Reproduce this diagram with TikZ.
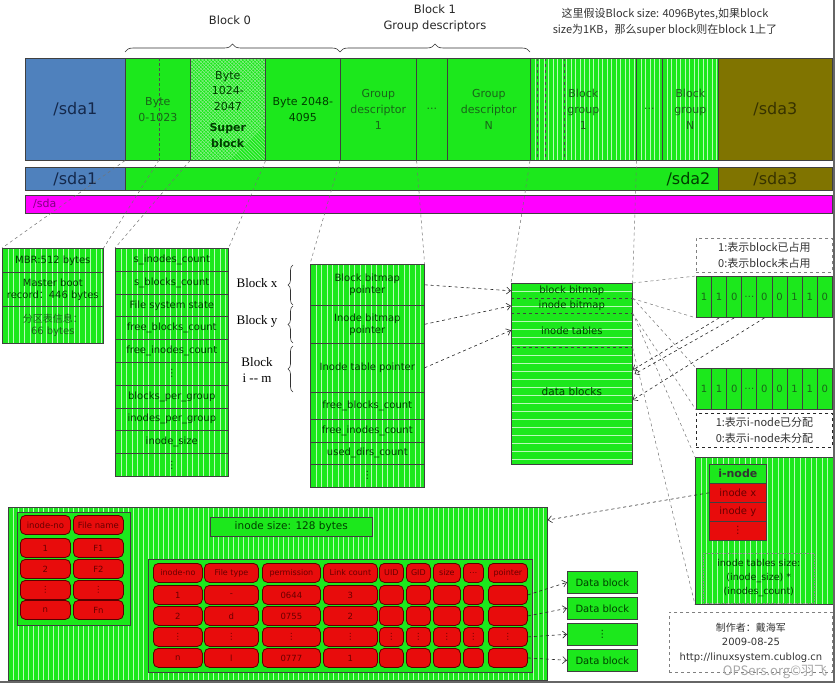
\documentclass[tikz,border=0pt]{standalone}
\usepackage{fontspec}
\setmainfont{DejaVu Sans}
\newfontfamily\cjk{Noto Sans CJK SC}
\newfontfamily\serifx{Liberation Serif}
\usetikzlibrary{decorations.pathreplacing,calc,arrows.meta}

\definecolor{gfill}{RGB}{28,232,28}
\definecolor{stripe}{RGB}{185,250,185}
\definecolor{hatch}{RGB}{150,240,150}
\definecolor{blueA}{RGB}{79,129,189}
\definecolor{blueT}{RGB}{20,40,75}
\definecolor{oliveA}{RGB}{128,116,0}
\definecolor{oliveT}{RGB}{55,50,0}
\definecolor{magA}{RGB}{255,0,255}
\definecolor{magT}{RGB}{130,0,130}
\definecolor{redA}{RGB}{232,12,12}
\definecolor{redB}{RGB}{90,0,0}
\definecolor{txtg}{RGB}{0,62,0}
\definecolor{txtl}{RGB}{25,100,25}
\definecolor{txtr}{RGB}{105,0,0}

\newcommand{\vd}{⋮}

\tikzset{
  sz/.style 2 args={minimum width=#1pt, minimum height=#2pt},
  box/.style={draw=black!75, line width=0.6pt, fill=gfill, text=txtg, align=center,
    anchor=north west, font=\fontsize{10}{12}\selectfont},
  vstripe/.style={path picture={
    \foreach \k in {1,...,110}
      \draw[stripe, line width=0.5pt] ([xshift={\k*#1}]path picture bounding box.north west)
        -- ([xshift={\k*#1}]path picture bounding box.south west);}},
  vstripe/.default=5.5,
  hstripe/.style={path picture={
    \foreach \k in {1,...,16}
      \draw[stripe, line width=0.5pt] ([yshift={-\k*8}]path picture bounding box.north west)
        -- ([yshift={-\k*8}]path picture bounding box.north east);}},
  xhatch/.style={path picture={
    \foreach \k in {-40,...,40} {
      \draw[hatch, line width=0.4pt] ([xshift={\k*3.5}]path picture bounding box.north west) -- ++(110,110);
      \draw[hatch, line width=0.4pt] ([xshift={\k*3.5}]path picture bounding box.north west) -- ++(-110,110);}}},
  pill/.style={draw=redB, line width=0.8pt, fill=redA, rounded corners=5pt, text=txtr,
    anchor=north west, align=center, font=\fontsize{8.5}{10}\selectfont},
  bit/.style={box, sz={15.1}{41}, line width=0.9pt, text=txtl, font=\fontsize{10}{12}\selectfont},
  notebox/.style={draw=black!50, dashed, line width=0.9pt, anchor=north west, align=center, text=black!80},
  link/.style={dashed, draw=black!55, line width=0.5pt},
  ptr/.style={dashed, draw=black!85, line width=0.6pt, -{Straight Barb[length=4pt,width=7pt]}},
  brc/.style={decorate, decoration={brace, amplitude=#1pt}, draw=black!80, line width=0.6pt},
}

\begin{document}
\begin{tikzpicture}[x=1pt, y=-1pt, every node/.style={inner sep=0pt}]
\useasboundingbox (0,0) rectangle (837,685);

% titles
\node[font=\fontsize{11.5}{14}\selectfont, text=black!85] (blk0) at (230,20) {Block 0};
\node[font=\fontsize{11.5}{16}\selectfont, text=black!85, align=center] (blk1) at (435,18) {Block 1\\Group descriptors};
\node[font=\cjk\fontsize{11}{16}\selectfont, text=black!80, align=center] (hint) at (665,22)
  {这里假设Block size: 4096Bytes,如果block\\size为1KB，那么super block则在block 1上了};

% top bar
\node[box, fill=blueA, text=blueT, sz={100}{102}, font=\fontsize{16}{18}\selectfont] (sdaA) at (25,58) {/sda1};
\node[box, sz={65}{102}, text=txtl, font=\fontsize{11}{16}\selectfont] (byteA) at (125,58) {Byte\\0-1023};
\node[box, xhatch, sz={75}{102}, font=\fontsize{11}{15.5}\selectfont]
  (super) at (190,58) {Byte\\1024-\\2047\\[6pt]\textbf{Super}\\\textbf{block}};
\node[box, sz={75}{102}, font=\fontsize{11}{16}\selectfont] (byteC) at (265,58) {Byte 2048-\\4095};
\node[box, sz={76}{102}, text=txtl, font=\fontsize{11}{16}\selectfont] (gd1) at (340,58) {Group\\descriptor\\1};
\node[box, sz={31}{102}, text=txtl, font=\fontsize{11}{16}\selectfont] (gdd) at (416,58) {...};
\node[box, sz={83}{102}, text=txtl, font=\fontsize{11}{16}\selectfont] (gdN) at (447,58) {Group\\descriptor\\N};
\node[box, vstripe=4.5, sz={106}{102}, text=txtl, font=\fontsize{11}{16}\selectfont] (bg1) at (530,58) {Block\\group\\1};
\node[box, vstripe=4.5, sz={26}{102}, text=txtl, font=\fontsize{11}{16}\selectfont] (bgd) at (636,58) {...};
\node[box, vstripe=4.5, sz={56}{102}, text=txtl, font=\fontsize{11}{16}\selectfont] (bgN) at (662,58) {Block\\group\\N};
\node[box, fill=oliveA, text=oliveT, sz={114}{102}, font=\fontsize{16}{18}\selectfont] (sdaC) at (718,58) {/sda3};
\draw[densely dashed, black!70] (159,58) -- (159,160);
\foreach \x in {537,545,564}
  \draw[dashed, black!70] (\x,58) -- (\x,160);
\coordinate (mbrcut) at (159,160);

% partition bars
\node[box, fill=blueA, text=blueT, sz={100}{23}, font=\fontsize{16}{18}\selectfont] (sdaB) at (25,167) {/sda1};
\node[box, sz={593}{23}] (sda2) at (125,167) {};
\node[anchor=east, text=txtg, font=\fontsize{16}{18}\selectfont] (sda2t) at ($(sda2.east)+(-8,0)$) {/sda2};
\node[box, fill=oliveA, text=oliveT, sz={114}{23}, font=\fontsize{16}{18}\selectfont] (sdaD) at (718,167) {/sda3};
\node[box, fill=magA, sz={807}{18}] (sda) at (25,195) {};
\node[anchor=west, text=magT, font=\fontsize{11}{13}\selectfont] (sdat) at ($(sda.west)+(8,0)$) {/sda};

% braces over block 0 and block 1
\draw[brc=8] ($(byteA.north west)+(0,-6)$) -- ($(gd1.north west)+(0,-6)$);
\draw[brc=8] ($(gd1.north west)+(0,-6)$) -- ($(bg1.north west)+(0,-6)$);

% MBR
\node[box, vstripe, sz={101}{24}] (mbr0) at (2,248) {MBR:512 bytes};
\node[box, vstripe, sz={101}{34}] (mbr1) at (2,272) {Master boot\\record{\cjk ：}446 bytes};
\node[box, vstripe, sz={101}{37}, text=txtl] (mbr2) at (2,306) {{\cjk 分区表信息：}\\66 bytes};

% super block
\foreach \t [count=\i from 0] in {s\_inodes\_count, s\_blocks\_count, File system state,
    free\_blocks\_count, free\_inodes\_count, \vd, blocks\_per\_group,
    inodes\_per\_group, inode\_size, \vd}
  \node[box, vstripe, sz={113}{22.8}] (sb\i) at (115,248+22.8*\i) {\t};

% group descriptor
\foreach \y/\h/\t [count=\i from 0] in {264/41/{Block bitmap\\pointer}, 305/38/{Inode bitmap\\pointer},
    343/49/Inode table pointer, 392/27/free\_blocks\_count, 419/23/free\_inodes\_count,
    442/22/used\_dirs\_count, 464/23/\vd}
  \node[box, vstripe, sz={114}{\h}] (gp\i) at (310,\y) {\t};

\draw[brc=5] (293,305) -- (293,265);
\draw[brc=5] (293,343) -- (293,306);
\draw[brc=5] (293,392) -- (293,346);
\node[font=\serifx\fontsize{13}{16}\selectfont] (lbx) at (257,283) {Block x};
\node[font=\serifx\fontsize{13}{16}\selectfont] (lby) at (257,321) {Block y};
\node[font=\serifx\fontsize{13}{16}\selectfont, align=center] (lbm) at (257,370) {Block\\i -- m};

% block group
\node[box, hstripe, draw=none, sz={121}{15}] (grp0) at (511,283) {block bitmap};
\node[box, hstripe, draw=none, sz={121}{15}] (grp1) at (511,298) {inode bitmap};
\node[box, hstripe, draw=none, sz={121}{34}] (grp2) at (511,313) {inode tables};
\node[box, hstripe, draw=none, sz={121}{117}] (grp3) at (511,347) {};
\node[text=txtg, font=\fontsize{10.5}{12}\selectfont] (grp3t) at ($(grp3.north)+(0,45)$) {data blocks};
\draw[black!75, line width=0.6pt] (grp0.north west) rectangle (grp3.south east);
\draw[dashed, black!75] (grp0.south west) -- (grp0.south east);
\draw[dashed, black!75] (grp1.south west) -- (grp1.south east);
\draw[dashed, black!75] (grp2.south west) -- (grp2.south east);

% top bar cut lines
\draw[link] (byteA.south west) -- (mbr0.north west);
\draw[link] (mbrcut) -- (mbr0.north east);
\draw[link] (super.south west) -- (sb0.north west);
\draw[link] (super.south east) -- (sb0.north east);
\draw[link] (gd1.south west) -- (gp0.north west);
\draw[link] (gd1.south east) -- (gp0.north east);
\draw[link] (bg1.south west) -- (grp0.north west);
\draw[link] (bg1.south east) -- (grp0.north east);

% pointers
\draw[ptr] (gp0.east) -- (grp0.west);
\draw[ptr] (gp1.east) -- (grp1.west);
\draw[ptr] (gp2.east) -- (grp2.west);

% bitmaps
\node[notebox, sz={136}{34}, font=\cjk\fontsize{11}{16}\selectfont] (legA) at (696,238) {1:表示block已占用\\0:表示block未占用};
\foreach \b [count=\i] in {1,1,0,\ldots,0,0,1,1,0} {
  \node[bit] (bmA\i) at (696+15.1*\i-15.1,276) {\b};
  \node[bit] (bmB\i) at (696+15.1*\i-15.1,368) {\b};
}
\node[notebox, draw=black!85, sz={136}{34}, font=\cjk\fontsize{11}{16}\selectfont] (legB) at (696,413) {1:表示i-node已分配\\0:表示i-node未分配};

% i-node table
\node[box, vstripe, sz={138}{147}] (inbox) at (695,457) {};
\node[box, sz={57}{19}, text=black!80, font=\bfseries\fontsize{11}{13}\selectfont] (inh) at (709,464) {i-node};
\node[box, fill=redA, text=txtr, sz={57}{19}] (inx) at (709,483) {inode x};
\node[box, fill=redA, text=txtr, sz={57}{19}] (iny) at (709,502) {inode y};
\node[box, fill=redA, text=txtr, sz={57}{19}] (ind) at (709,521) {\vd};
\node[box, fill=none, draw=black!45, densely dotted, sz={111}{50}, font=\fontsize{9.5}{14}\selectfont] (insz) at (703,553)
  {inode tables size:\\(inode\_size) *\\(inodes\_count)};

\draw[link] (grp0.north east) -- (bmA1.north west);
\draw[link] (grp0.south east) -- (bmA1.south west);
\draw[link] (grp1.north east) -- (bmB1.north west);
\draw[link] (grp1.south east) -- (bmB1.south west);
\draw[link] (grp2.north east) -- (inbox.north west);
\draw[link] (grp2.south east) -- (inbox.south west);

\coordinate (dbin1) at ($(grp3.north east)+(0,23)$);
\coordinate (dbin2) at ($(grp3.north east)+(2,27)$);
\coordinate (dbin3) at ($(grp3.north east)+(0,53)$);
\draw[ptr] (bmA2.south) -- (dbin1);
\draw[ptr] (bmA3.south) -- (dbin2);
\draw[ptr] (bmA5.south) -- (dbin3);

% bottom: directory + inode table
\node[box, vstripe=5, sz={539}{173}] (big) at (8,507) {};
\node[box, sz={113}{113}] (ltab) at (17,512) {};
\node[box, sz={162}{19}, font=\fontsize{10.5}{12}\selectfont] (isz) at (210,517) {inode size: 128 bytes};
\node[box, sz={384}{113}] (rtab) at (148,559) {};

\foreach \y/\a/\b [count=\r] in {515/inode-no/File name, 538/1/F1, 559/2/F2, 580/\vd/\vd, 600/n/Fn} {
  \node[pill, sz={50}{19}] (l\r1) at (20,\y) {\a};
  \node[pill, sz={50}{19}] (l\r2) at (73,\y) {\b};
}

\foreach \x/\w/\t [count=\c] in {153/49/inode-no, 204/54/File type, 262/58/permission, 323/54/Link count,
    379/24/UID, 406/24/GID, 433/27/size, 463/20/\ldots, 488/39/pointer}
  \node[pill, sz={\w}{19}, font=\fontsize{8}{10}\selectfont] (c0\c) at (\x,563) {\t};
\foreach \x/\w/\t [count=\c] in {153/49/1, 204/54/-, 262/58/0644, 323/54/3,
    379/24/{}, 406/24/{}, 433/27/{}, 463/20/{}, 488/39/{}}
  \node[pill, sz={\w}{19}] (c1\c) at (\x,585) {\t};
\foreach \x/\w/\t [count=\c] in {153/49/2, 204/54/d, 262/58/0755, 323/54/2,
    379/24/{}, 406/24/{}, 433/27/{}, 463/20/{}, 488/39/{}}
  \node[pill, sz={\w}{19}] (c2\c) at (\x,606) {\t};
\foreach \x/\w [count=\c] in {153/49, 204/54, 262/58, 323/54, 379/24, 406/24, 433/27, 463/20, 488/39}
  \node[pill, sz={\w}{19}] (c3\c) at (\x,627) {\vd};
\foreach \x/\w/\t [count=\c] in {153/49/n, 204/54/l, 262/58/0777, 323/54/1,
    379/24/{}, 406/24/{}, 433/27/{}, 463/20/{}, 488/39/{}}
  \node[pill, sz={\w}{19}] (c4\c) at (\x,648) {\t};

\foreach \y/\t [count=\i] in {571/Data block, 597/Data block, 623/\vd, 649/Data block}
  \node[box, sz={70}{22}, font=\fontsize{10}{12}\selectfont] (db\i) at (567,\y) {\t};
\draw[ptr] (c19.east) -- (db1.west);
\draw[ptr] (c29.east) -- (db2.west);
\draw[ptr] (c39.east) -- (db3.west);
\draw[ptr] (c49.east) -- (db4.west);

\coordinate (bigin) at ($(big.north east)+(0,13)$);
\draw[ptr] (inx.west) -- (bigin);

% credits
\node[notebox, sz={163}{60}, font=\fontsize{10}{14.5}\selectfont] (credit) at (669,612)
  {{\cjk 制作者：戴海军}\\2009-08-25\\http://linuxsystem.cublog.cn};
\node[text=black!35, font=\cjk\fontsize{13}{15}\selectfont] (wmark) at (775,672) {OPSers.org©羽飞};

% frame shadow
\draw[black!60, line width=1.2pt] (0,682) -- (834,682) -- (834,0);
\end{tikzpicture}
\end{document}
